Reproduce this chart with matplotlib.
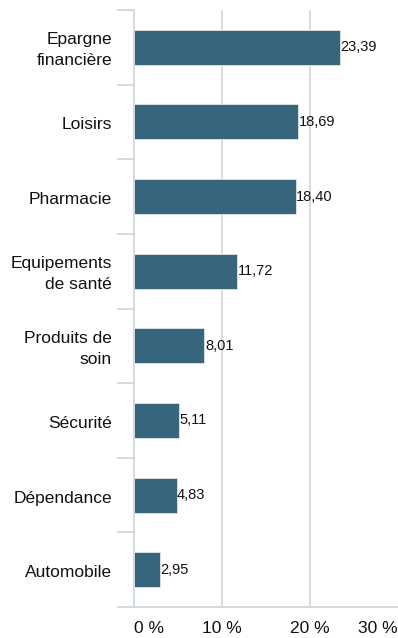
import matplotlib.pyplot as plt

# categories top to bottom
categories = ["Epargne\nfinancière", "Loisirs", "Pharmacie", "Equipements\nde santé",
              "Produits de\nsoin", "Sécurité", "Dépendance", "Automobile"]
values = [23.39, 18.69, 18.40, 11.72, 8.01, 5.11, 4.83, 2.95]
xticks = [0, 10, 20, 30]
xtick_labels = ["0 %", "10 %", "20 %", "30 %"]

plt.rcParams['font.family'] = ['Liberation Sans', 'DejaVu Sans']

fig = plt.figure(figsize=(3.98, 6.38), dpi=100)
ax = fig.add_axes([134 / 398, 31 / 638, 264 / 398, 597 / 638])

n = len(categories)
ypos = list(range(n))
ax.barh(ypos, values, height=0.47, color='#37657c', edgecolor='#dfe6ea', linewidth=0.6, zorder=3)
for y, v in zip(ypos, values):
    ax.text(v + 0.05, y, f"{v:.2f}".replace(".", ","), va='center', ha='left',
            fontsize=10.5, color='#111111', zorder=4)

ax.set_ylim(n - 0.5, -0.5)
ax.set_xlim(0, 30)

# category labels
for y, c in zip(ypos, categories):
    ax.text(-2.5, y + 0.04, c, ha='right', va='center', fontsize=12.5, color='#111111',
            multialignment='right', linespacing=1.5)

# vertical grid
for x in [10, 20]:
    ax.axvline(x, color='#d4d4d4', linewidth=1.2, zorder=1)

for s in ['top', 'right']:
    ax.spines[s].set_visible(False)
ax.spines['left'].set_color('#c8d4de')
ax.spines['left'].set_linewidth(1.2)
ax.spines['bottom'].set_color('#c8d4de')
ax.spines['bottom'].set_linewidth(1.2)

# category separator ticks on the left
ax.set_yticks([i - 0.5 for i in range(n + 1)])
ax.set_yticklabels([])
ax.tick_params(axis='y', length=12, width=1.2, color='#c8d4de')
ax.tick_params(axis='x', length=0, pad=10, labelsize=12.5, labelcolor='#111111')

ax.set_xticks(xticks)
ax.set_xticklabels(xtick_labels)
labs = ax.get_xticklabels()
labs[0].set_horizontalalignment('left')
labs[-1].set_horizontalalignment('right')

fig.savefig('out.png', dpi=100)
